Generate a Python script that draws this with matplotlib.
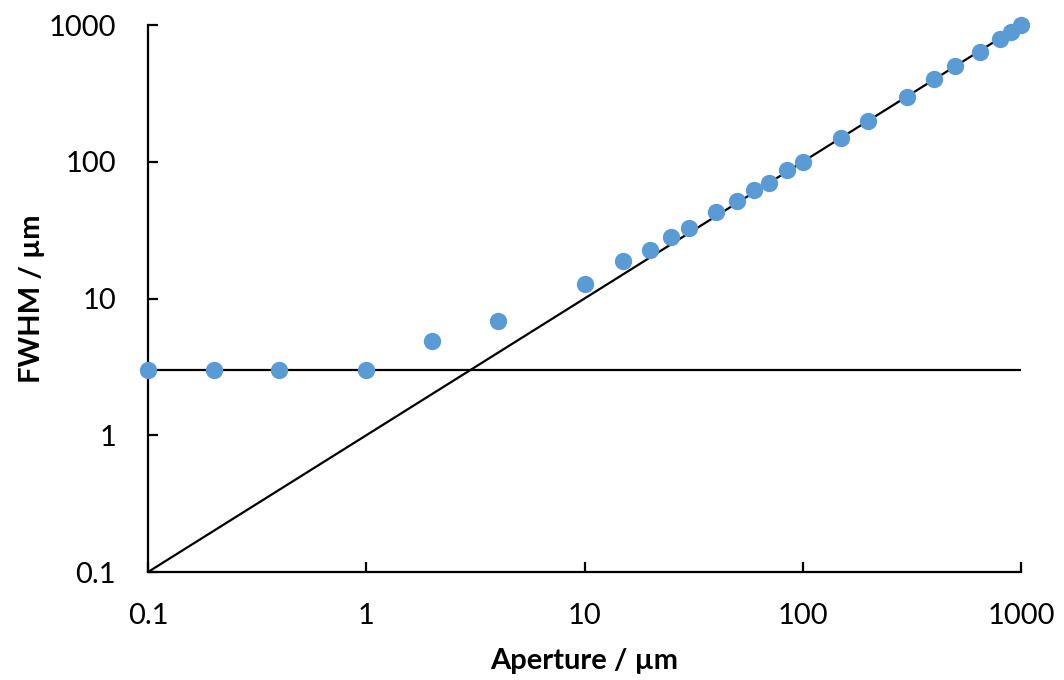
import matplotlib
matplotlib.use("Agg")
import matplotlib.pyplot as plt
import matplotlib.ticker as mticker

############# DATA ############
aperture = [0.1, 0.2, 0.4, 1, 2, 4, 10, 15, 20, 25, 30, 40, 50, 60, 70, 85,
            100, 150, 200, 300, 400, 500, 650, 800, 900, 1000]
fwhm = [3, 3, 3, 3, 4.85, 6.9, 12.7, 18.7, 22.5, 28, 32.6, 42.7, 52, 62, 69.6, 86.5,
        99, 149, 198, 300, 400, 500, 640, 790, 885, 1000]

# guide lines: diffraction-free limit (y = x) and resolution floor (y = 3)
line_x = [0.1, 1000]
diag_y = [0.1, 1000]
floor_y = [3, 3]

ticks = [0.1, 1, 10, 100, 1000]

############# PLOT SETTINGS ############
point_color = '#5B9BD5'
plt.rcParams['font.family'] = ['Lato', 'DejaVu Sans']

fig = plt.figure(figsize=(10.64, 6.80), dpi=100)
ax = fig.add_axes([0.1391, 0.1588, 0.8205, 0.8044])

ax.plot(line_x, diag_y, color='black', lw=1.6, zorder=2)
ax.plot(line_x, floor_y, color='black', lw=1.6, zorder=2)
ax.plot(aperture, fwhm, 'o', color=point_color, markersize=12.5, markeredgewidth=0,
        zorder=3, clip_on=False)

ax.set_xscale('log')
ax.set_yscale('log')
ax.set_xlim(0.1, 1000)
ax.set_ylim(0.1, 1000)

fmt = mticker.FuncFormatter(lambda v, p: '{:g}'.format(v))
for axis in (ax.xaxis, ax.yaxis):
    axis.set_major_locator(mticker.FixedLocator(ticks))
    axis.set_minor_locator(mticker.NullLocator())
    axis.set_major_formatter(fmt)

for side in ('top', 'right'):
    ax.spines[side].set_visible(False)
for side in ('left', 'bottom'):
    ax.spines[side].set_linewidth(1.6)

ax.tick_params(axis='both', which='major', direction='in', length=7, width=1.6,
               labelsize=21)
ax.tick_params(axis='y', pad=23)
ax.tick_params(axis='x', pad=22)

ax.set_xlabel('Aperture / µm', fontsize=21, fontweight='bold')
ax.set_ylabel('FWHM / µm', fontsize=21, fontweight='bold')
ax.xaxis.set_label_coords(0.5, -0.138)
ax.yaxis.set_label_coords(-0.118, 0.5)

fig.savefig('out.png', dpi=100)
